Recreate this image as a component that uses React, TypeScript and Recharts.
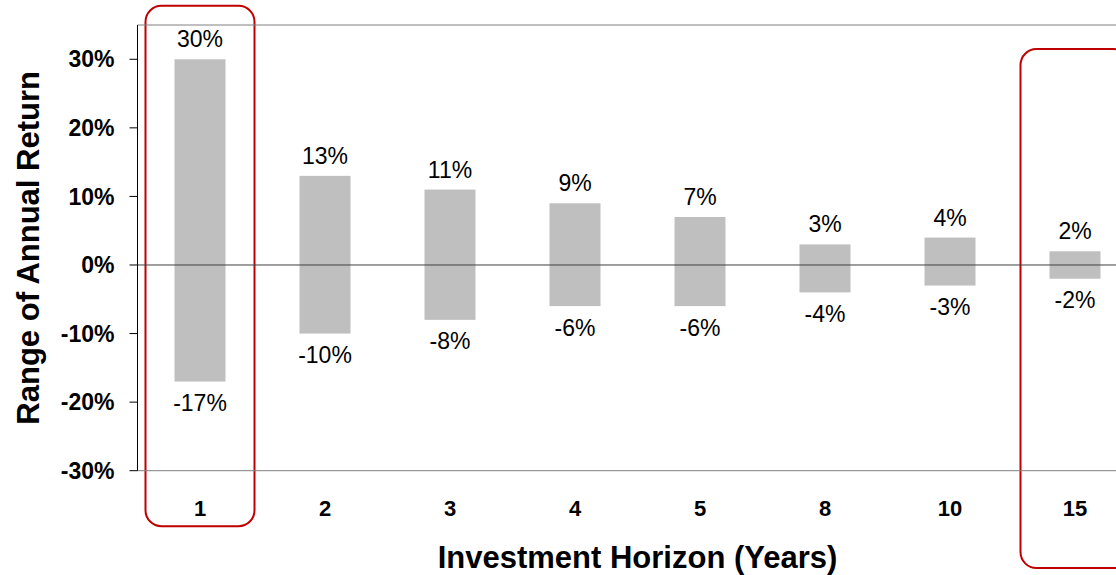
import React from "react";
import {
  BarChart,
  Bar,
  XAxis,
  YAxis,
  ReferenceLine,
  ReferenceArea,
  Label,
} from "recharts";

// Investment horizons (years) and the best / worst annualised return for each
const horizons = ["1", "2", "3", "4", "5", "8", "10", "15"];
const bestReturns = [0.3, 0.13, 0.11, 0.09, 0.07, 0.03, 0.04, 0.02];
const worstReturns = [-0.17, -0.1, -0.08, -0.06, -0.06, -0.04, -0.03, -0.02];

// Value axis
const yTicks = [-0.3, -0.2, -0.1, 0, 0.1, 0.2, 0.3];
const yDomain = [-0.3, 0.35];

// Highlight boxes around the shortest and longest horizons: [category, top, bottom]
const highlights: [string, number, number][] = [
  ["1", 0.378, -0.381],
  ["15", 0.315, -0.442],
];

const rows = horizons.map((h, i) => ({
  horizon: h,
  high: bestReturns[i],
  low: worstReturns[i],
  range: [worstReturns[i], bestReturns[i]],
}));

const FONT = "'Liberation Sans', Arial, Helvetica, sans-serif";
const pct = (v: number) => `${Math.round(v * 100)}%`;

const RangeBar = (props: any) => {
  const { x, y, width, height, payload } = props;
  const top = Math.min(y, y + height);
  const bottom = Math.max(y, y + height);
  const cx = x + width / 2;
  return (
    <g>
      <rect x={x} y={top} width={width} height={bottom - top} fill="#bfbfbf" />
      <text
        x={cx}
        y={top - 12}
        textAnchor="middle"
        fontFamily={FONT}
        fontSize={23}
        fill="#000"
      >
        {pct(payload.high)}
      </text>
      <text
        x={cx}
        y={bottom + 13}
        dy="0.72em"
        textAnchor="middle"
        fontFamily={FONT}
        fontSize={23}
        fill="#000"
      >
        {pct(payload.low)}
      </text>
    </g>
  );
};

const HighlightBox = (props: any) => {
  const { x, y, width, height } = props;
  const inset = 8;
  return (
    <rect
      x={x + inset}
      y={y}
      width={width - inset * 2}
      height={height}
      rx={16}
      ry={16}
      fill="none"
      stroke="#c00000"
      strokeWidth={2}
    />
  );
};

export default function App() {
  return (
    <div
      style={{
        position: "absolute",
        left: 0,
        top: 0,
        width: 1116,
        height: 575,
        overflow: "hidden",
        background: "#fff",
      }}
    >
      <BarChart
        width={1160}
        height={575}
        data={rows}
        margin={{ top: 25, right: 22.5, bottom: 14.3, left: 37.5 }}
      >
        <XAxis
          dataKey="horizon"
          height={90}
          axisLine={{ stroke: "#808080", strokeWidth: 1 }}
          tickLine={false}
          tickSize={6}
          tickMargin={24}
          tick={{ fontFamily: FONT, fontSize: 22, fontWeight: "bold", fill: "#000" }}
          interval={0}
        >
          <Label
            content={(p: any) => {
              const vb = p.viewBox;
              return (
                <text
                  x={vb.x + vb.width / 2}
                  y={568}
                  textAnchor="middle"
                  fontFamily={FONT}
                  fontSize={31}
                  fontWeight="bold"
                  fill="#000"
                >
                  Investment Horizon (Years)
                </text>
              );
            }}
          />
        </XAxis>
        <YAxis
          width={100}
          domain={yDomain}
          ticks={yTicks}
          allowDataOverflow
          tickFormatter={pct}
          axisLine={{ stroke: "#000", strokeWidth: 1 }}
          tickLine={{ stroke: "#000", strokeWidth: 1 }}
          tickSize={8}
          tickMargin={15}
          tick={{ fontFamily: FONT, fontSize: 23, fontWeight: "bold", fill: "#000" }}
        >
          <Label
            content={(p: any) => {
              const vb = p.viewBox;
              const cy = vb.y + vb.height / 2;
              return (
                <text
                  transform={`translate(39, ${cy}) rotate(-90)`}
                  textAnchor="middle"
                  fontFamily={FONT}
                  fontSize={31}
                  fontWeight="bold"
                  fill="#000"
                >
                  Range of Annual Return
                </text>
              );
            }}
          />
        </YAxis>
        <ReferenceLine y={0.35} stroke="#808080" strokeWidth={1} ifOverflow="visible" />
        <Bar
          dataKey="range"
          barSize={51}
          isAnimationActive={false}
          shape={<RangeBar />}
        />
        <ReferenceLine y={0} stroke="#404040" strokeWidth={1} />
        {highlights.map(([cat, top, bottom]) => (
          <ReferenceArea
            key={cat}
            x1={cat}
            x2={cat}
            y1={bottom}
            y2={top}
            ifOverflow="visible"
            shape={<HighlightBox />}
          />
        ))}
      </BarChart>
    </div>
  );
}
